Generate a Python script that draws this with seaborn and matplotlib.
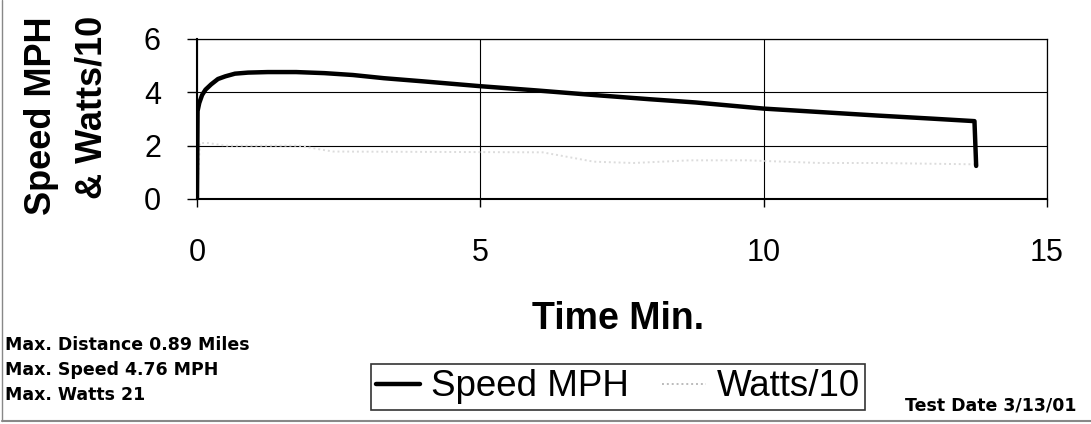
import numpy as np
import pandas as pd
import seaborn as sns
import matplotlib.pyplot as plt
from matplotlib.lines import Line2D

# ---- data ----
time_speed = [0.0, 0.01, 0.04, 0.09, 0.15, 0.25, 0.37, 0.5, 0.67, 0.9, 1.25, 1.75,
              2.25, 2.75, 3.3, 4.0, 5.0, 6.0, 7.0, 8.0, 8.8, 10.0, 11.0, 12.0, 13.0,
              13.72, 13.75]
speed_mph = [0.0, 3.3, 3.6, 3.9, 4.1, 4.3, 4.5, 4.6, 4.7, 4.74, 4.76, 4.76,
             4.72, 4.65, 4.53, 4.41, 4.23, 4.07, 3.9, 3.74, 3.62, 3.39, 3.26, 3.13, 3.01,
             2.92, 1.24]
time_watts = [0.0, 0.05, 0.2, 0.5, 1.8, 2.2, 2.4, 6.1, 7.0, 7.7, 8.7, 9.7, 11.0, 12.0, 13.75]
watts_10 = [0.0, 2.1, 2.1, 2.0, 2.0, 1.85, 1.78, 1.75, 1.4, 1.35, 1.45, 1.45, 1.35, 1.35, 1.3]
x_ticks = [0, 5, 10, 15]
y_ticks = [0, 2, 4, 6]
info_lines = ["Max. Distance 0.89 Miles", "Max. Speed 4.76 MPH", "Max. Watts 21"]
test_date = "Test Date 3/13/01"

speed_df = pd.DataFrame({"t": time_speed, "v": speed_mph})
watts_df = pd.DataFrame({"t": time_watts, "v": watts_10})

sns.set_style("white")
plt.rcParams['font.family'] = ['Liberation Sans', 'DejaVu Sans']
plt.rcParams['text.color'] = 'black'
plt.rcParams['axes.labelcolor'] = 'black'
plt.rcParams['xtick.color'] = 'black'
plt.rcParams['ytick.color'] = 'black'

W, H = 1091, 424
fig = plt.figure(figsize=(W / 100, H / 100), dpi=100)
ax = fig.add_axes([197 / W, 1 - 199 / H, 850 / W, 160 / H])

ax.grid(True, color='black', lw=0.8)
ax.set_axisbelow(True)

sns.lineplot(data=watts_df, x="t", y="v", sort=False, estimator=None, ax=ax,
             color='#dcdcdc', lw=1.4, linestyle=(0, (1, 1.5)), label="Watts/10")
sns.lineplot(data=speed_df, x="t", y="v", sort=False, estimator=None, ax=ax,
             color='black', lw=3.2, label="Speed MPH")

ax.set_xlim(0, 15)
ax.set_ylim(0, 6)
ax.set_xticks(x_ticks)
ax.set_yticks(y_ticks)
ax.tick_params(axis='y', direction='out', length=7, width=1, pad=19, labelsize=22, left=True,
               colors='black')
ax.tick_params(axis='x', direction='out', length=6, width=1, pad=22, labelsize=22, bottom=True,
               colors='black')

for s in ['left', 'bottom']:
    ax.spines[s].set_color('black')
    ax.spines[s].set_linewidth(1.5)
for s in ['top', 'right']:
    ax.spines[s].set_color('black')
    ax.spines[s].set_linewidth(0.9)

ax.set_xlabel("Time Min.", fontsize=27, fontweight='bold', color='black')
ax.xaxis.label.set_va('center')
ax.xaxis.set_label_coords((618 - 197) / 850, (199 - 319) / 160)
ax.set_ylabel("")

fig.text(42 / W, 1 - 215 / H, "Speed MPH", rotation=90, ha='center', va='bottom',
         fontsize=26, fontweight='bold', color='black')
fig.text(92 / W, 1 - 107 / H, "& Watts/10", rotation=90, ha='center', va='center',
         fontsize=26, fontweight='bold', color='black')

handles, labels = ax.get_legend_handles_labels()
order = [labels.index("Speed MPH"), labels.index("Watts/10")]
leg = ax.legend([handles[i] for i in order], [labels[i] for i in order],
                loc='center', bbox_to_anchor=(618 / W, 1 - 387 / H),
                bbox_transform=fig.transFigure, ncol=2, fontsize=26.5, frameon=True,
                fancybox=False, edgecolor='black', handlelength=1.2,
                handletextpad=0.3, columnspacing=0.9, borderpad=0.14,
                borderaxespad=0, labelcolor='black')
leg.get_frame().set_linewidth(1.2)
leg.legend_handles[1].set_color('#bbbbbb')

for i, line in enumerate(info_lines):
    fig.text(5 / W, 1 - (345 + 25 * i) / H, line, ha='left', va='center',
             fontsize=12.5, fontweight='bold', family='DejaVu Sans', color='black')
fig.text(905 / W, 1 - 405 / H, test_date, ha='left', va='center',
         fontsize=12.5, fontweight='bold', family='DejaVu Sans', color='black')

fig.add_artist(Line2D([2 / W, 2 / W], [1 - 421 / H, 1.0], transform=fig.transFigure,
                      color='#888888', lw=1))
fig.add_artist(Line2D([2 / W, 1.0], [1 - 421 / H, 1 - 421 / H], transform=fig.transFigure,
                      color='#888888', lw=1.5))

fig.savefig("out.png", dpi=100)
